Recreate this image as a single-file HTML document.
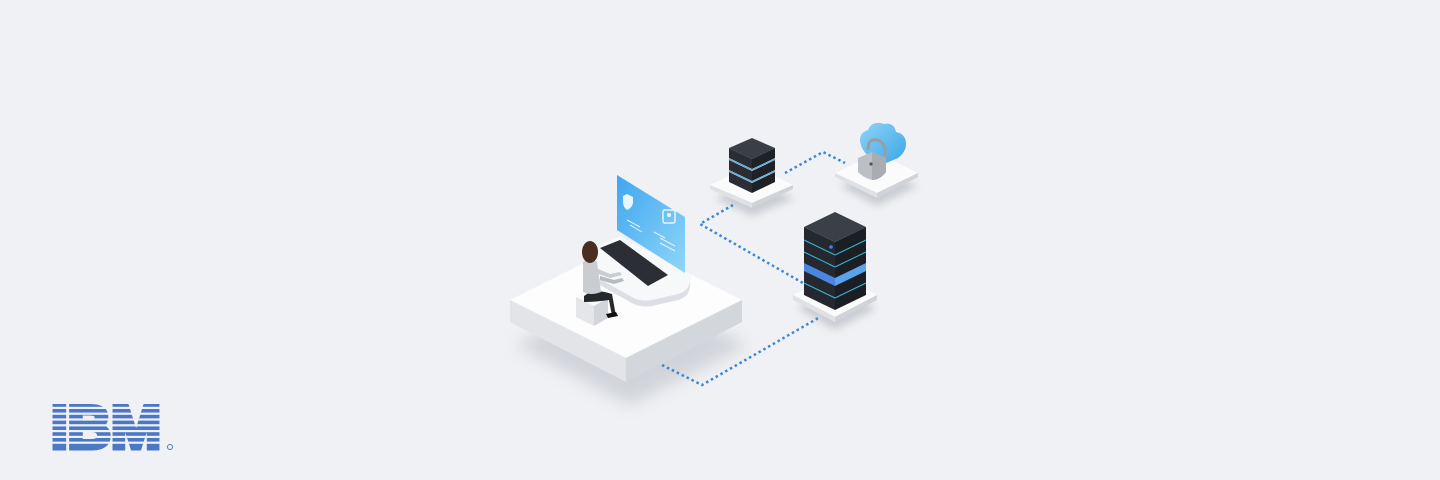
<!DOCTYPE html>
<html><head><meta charset="utf-8"><style>
html,body{margin:0;padding:0;background:#f0f1f4;}
svg{display:block}
</style></head><body>
<svg width="1440" height="480" viewBox="0 0 1440 480" xmlns="http://www.w3.org/2000/svg">
<defs>
<linearGradient id="scr" x1="0" y1="0" x2="1" y2="1">
<stop offset="0" stop-color="#3fa6f0"/><stop offset="1" stop-color="#8fd6f8"/></linearGradient>
<linearGradient id="cl" x1="0" y1="0" x2="1" y2="1">
<stop offset="0" stop-color="#8fd3f6"/><stop offset="1" stop-color="#3aa6e8"/></linearGradient>
<filter id="bl" x="-50%" y="-50%" width="200%" height="200%"><feGaussianBlur stdDeviation="8"/></filter>
<filter id="bl2" x="-50%" y="-50%" width="200%" height="200%"><feGaussianBlur stdDeviation="4"/></filter>
</defs>
<rect width="1440" height="480" fill="#f0f1f4"/>

<polygon points="515,345 630,290 748,345 630,405" fill="#c9ccd3" filter="url(#bl)" opacity="0.8"/>
<polygon points="715,198 752,182 795,198 752,216" fill="#c9ccd3" filter="url(#bl2)"/>
<polygon points="840,186 877,168 918,186 877,206" fill="#c9ccd3" filter="url(#bl2)"/>
<polygon points="797,308 835,290 877,308 835,330" fill="#c9ccd3" filter="url(#bl2)"/>

<g fill="none" stroke="#3a86d8" stroke-width="2.5" stroke-dasharray="2.5 3">
<polyline points="733,205 700,224 803,283"/>
<polyline points="785,173 823,152 845,163"/>
<polyline points="662,365 702,385 820,317"/>
</g>

<polygon points="510,300 626,242 742,300 626,358" fill="#fdfdfe"/>
<polygon points="510,300 626,358 626,382 510,322" fill="#e2e4e8"/>
<polygon points="626,358 742,300 742,322 626,382" fill="#d3d6db"/>

<path d="M598,246 L620,236 L690,274 Q692,290 678,294 L652,300 Q640,302 630,296 L598,278 Z" fill="#f7f8f9"/>
<path d="M598,278 L630,296 Q640,302 652,300 L678,294 Q692,290 690,274 L690,280 Q692,296 678,300 L652,306 Q640,308 630,302 L598,284Z" fill="#dcdfe3"/>
<polygon points="600,248 620,240 668,275 648,286" fill="#2b2f35"/>
<polygon points="617,175 685,217 685,273 617,230" fill="url(#scr)"/>
<path d="M627,194 l6,3 v6 q-1,5 -6,7 q-4,-3 -4,-8 v-6z" fill="#e9f6ff"/>
<rect x="663" y="210" width="12" height="13" rx="2" fill="none" stroke="#e9f6ff" stroke-width="1.5"/>
<circle cx="669" cy="215" r="2" fill="#e9f6ff"/>
<g stroke="#e6f4ff" stroke-width="1">
<line x1="627" y1="220" x2="640" y2="227"/><line x1="630" y1="225" x2="642" y2="232"/>
<line x1="654" y1="232" x2="665" y2="238"/><line x1="660" y1="238" x2="675" y2="246"/><line x1="660" y1="243" x2="675" y2="251"/>
</g>

<polygon points="576,297 590,290 608,298 594,306" fill="#fafafa"/>
<polygon points="576,297 594,306 594,326 576,317" fill="#e4e6ea"/>
<polygon points="594,306 608,298 608,318 594,326" fill="#d2d5da"/>
<path d="M584,296 q10,-8 28,-2 l4,22 h-4 l-3,-16 q-14,2 -25,2z" fill="#25282c"/>
<path d="M606,314 l10,-2 l2,4 l-10,2z" fill="#111"/>
<path d="M583,262 q8,-6 14,0 l4,30 q-10,4 -18,0z" fill="#c9ccd0"/>
<path d="M596,268 l14,6 l10,-2 l2,3 l-12,3 l-14,-5z" fill="#c9ccd0"/>
<path d="M600,276 l14,4 l8,-2 l2,3 l-10,3 l-14,-4z" fill="#b8bbc0"/>
<ellipse cx="590" cy="252" rx="8" ry="11" fill="#4a2e22"/>

<polygon points="710,185 752,165 793,185 752,203" fill="#fbfbfc"/>
<polygon points="710,185 752,203 752,208 710,189" fill="#dfe1e5"/>
<polygon points="752,203 793,185 793,189 752,208" fill="#d0d3d8"/>
<g>
<polygon points="729,172 752,183 752,193 729,182" fill="#2a2e34"/>
<polygon points="752,183 775,172 775,182 752,193" fill="#1e2126"/>
<polygon points="729,160 752,171 752,181 729,170" fill="#2a2e34"/>
<polygon points="752,171 775,160 775,170 752,181" fill="#1e2126"/>
<polygon points="729,148 752,159 752,169 729,158" fill="#2a2e34"/>
<polygon points="752,159 775,148 775,158 752,169" fill="#1e2126"/>
<polygon points="729,148 752,138 775,148 752,159" fill="#3a3f46"/>
<g stroke="#3aa6e8" stroke-width="1"><line x1="752" y1="170" x2="775" y2="159"/><line x1="752" y1="182" x2="775" y2="171"/><line x1="729" y1="159" x2="752" y2="170"/><line x1="729" y1="171" x2="752" y2="182"/></g>
</g>

<polygon points="835,173 877,153 918,173 877,193" fill="#fbfbfc"/>
<polygon points="835,173 877,193 877,198 835,177" fill="#dfe1e5"/>
<polygon points="877,193 918,173 918,177 877,198" fill="#d0d3d8"/>
<path d="M862,148 q-6,-14 6,-18 q4,-10 16,-6 q10,-2 12,8 q10,2 10,12 q0,8 -8,14 l-14,6 q-14,-2 -22,-16z" fill="url(#cl)"/>
<path d="M868,150 q0,-12 9,-10 q8,2 8,12 v6" fill="none" stroke="#9a9da2" stroke-width="3"/>
<path d="M858,158 l14,-6 l14,6 v14 q-6,8 -14,8 q-8,-2 -14,-8z" fill="#bcbfc4"/>
<path d="M872,152 l14,6 v14 q-6,8 -14,8z" fill="#a9acb1"/>
<circle cx="871" cy="164" r="1.6" fill="#555"/>

<polygon points="793,295 835,275 877,295 835,317" fill="#fbfbfc"/>
<polygon points="793,295 835,317 835,322 793,300" fill="#dfe1e5"/>
<polygon points="835,317 877,295 877,300 835,322" fill="#d0d3d8"/>
<polygon points="804,227 835,242 835,310 804,295" fill="#25292f"/>
<polygon points="835,242 866,227 866,295 835,310" fill="#1b1e23"/>
<polygon points="804,227 835,212 866,227 835,242" fill="#3b4047"/>
<polygon points="804,263 835,278 835,286 804,271" fill="#4a86e0"/>
<polygon points="835,278 866,263 866,271 835,286" fill="#5aa3ec"/>
<g stroke="#36b8d8" stroke-width="1">
<line x1="804" y1="240" x2="835" y2="255"/><line x1="835" y1="255" x2="866" y2="240"/>
<line x1="804" y1="252" x2="835" y2="267"/><line x1="835" y1="267" x2="866" y2="252"/>
<line x1="804" y1="283" x2="835" y2="298"/><line x1="835" y1="298" x2="866" y2="283"/>
</g>
<circle cx="831" cy="247" r="1.8" fill="#3a86e8"/>

<text x="51" y="448" font-family="'Liberation Sans',sans-serif" font-weight="bold" font-size="60" textLength="110" lengthAdjust="spacingAndGlyphs" fill="#4b78c6" stroke="#4b78c6" stroke-width="5" stroke-linejoin="miter">IBM</text>
<g fill="#f0f1f4">
<rect x="40" y="406.8" width="130" height="2.2"/>
<rect x="40" y="412.6" width="130" height="2.2"/>
<rect x="40" y="418.4" width="130" height="2.2"/>
<rect x="40" y="424.2" width="130" height="2.2"/>
<rect x="40" y="430" width="130" height="2.2"/>
<rect x="40" y="435.8" width="130" height="2.2"/>
<rect x="40" y="441.6" width="130" height="2.2"/>
</g>
<circle cx="170" cy="447" r="2.5" fill="none" stroke="#4b78c6" stroke-width="1"/>
</svg>
</body></html>
